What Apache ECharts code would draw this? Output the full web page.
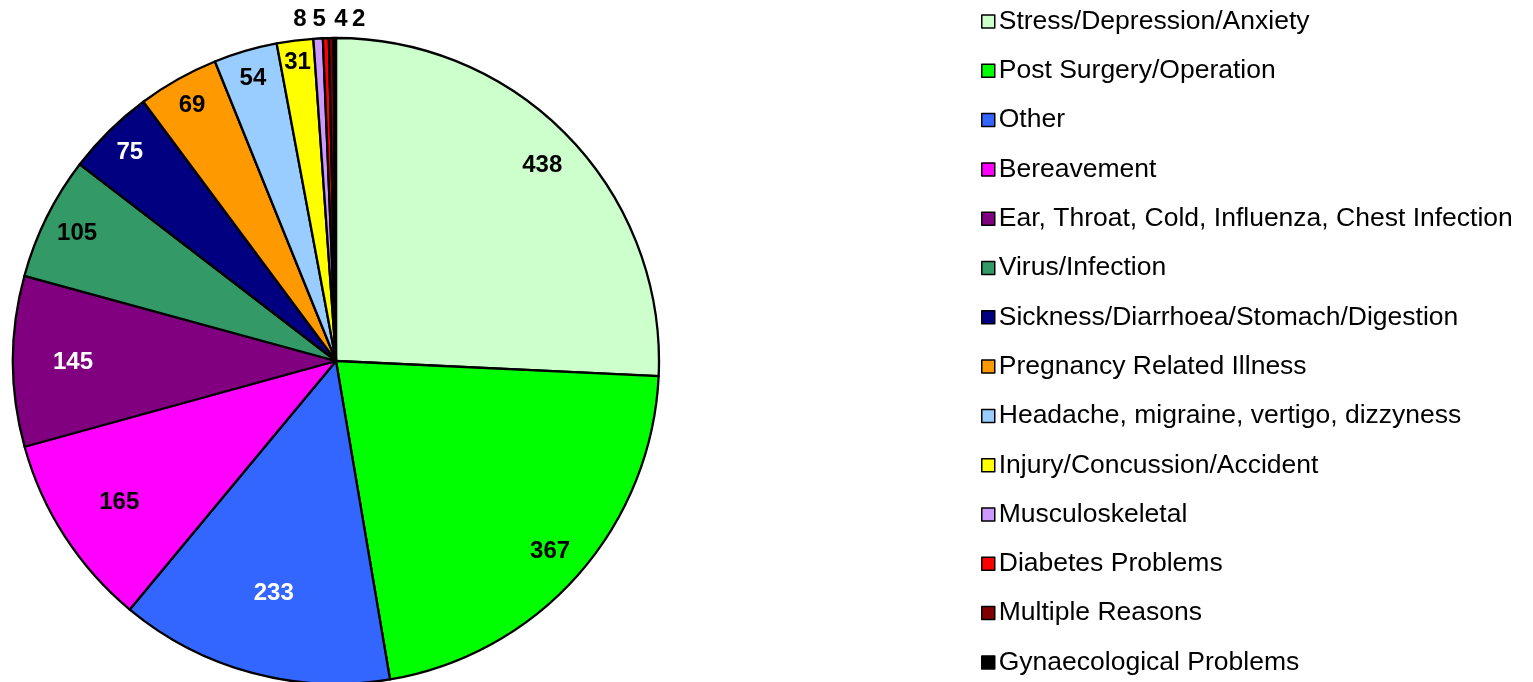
<!DOCTYPE html>
<html>
<head>
<meta charset="utf-8">
<script src="https://cdn.jsdelivr.net/npm/echarts@6/dist/echarts.min.js"></script>
<style>html,body{margin:0;padding:0;background:#fff}#c{width:1533px;height:682px}</style>
</head>
<body>
<div id="c"></div>
<script>
const categories = [
  'Stress/Depression/Anxiety',
  'Post Surgery/Operation',
  'Other',
  'Bereavement',
  'Ear, Throat, Cold, Influenza, Chest Infection',
  'Virus/Infection',
  'Sickness/Diarrhoea/Stomach/Digestion',
  'Pregnancy Related Illness',
  'Headache, migraine, vertigo, dizzyness',
  'Injury/Concussion/Accident',
  'Musculoskeletal',
  'Diabetes Problems',
  'Multiple Reasons',
  'Gynaecological Problems'
];
const values = [438, 367, 233, 165, 145, 105, 75, 69, 54, 31, 8, 5, 4, 2];

const colors = ['#CCFFCC','#00FF00','#3366FF','#FF00FF','#800080','#339966','#000080','#FF9900','#99CCFF','#FFFF00','#CC99FF','#FF0000','#800000','#000000'];
const labelColors = ['#000','#000','#fff','#000','#fff','#000','#fff','#000','#000','#000','#000','#000','#000','#000'];
// label distance from centre (px) and horizontal shift (style only)
const labelDist = [285, 286, 240, 258, 263, 289, 294, 294, 296, 302, 343, 343, 343, 343];
const labelShift = [0,0,0,0,0,0,0,0,0,0,-17,-6,10,24];

const CX = 336, CY = 361, R = 323;

const chart = echarts.init(document.getElementById('c'), null, {renderer: 'canvas'});
const font = 'Arial, "Liberation Sans", sans-serif';
chart.setOption({
  animation: false,
  backgroundColor: '#fff',
  legend: {
    orient: 'vertical',
    left: 981,
    top: 8,
    height: 680,
    padding: 0,
    itemWidth: 13,
    itemHeight: 13,
    itemGap: 22.3,
    icon: 'rect',
    selectedMode: false,
    itemStyle: {borderColor: '#000', borderWidth: 1.5},
    textStyle: {fontFamily: font, fontSize: 26.5, color: '#000', lineHeight: 26.5, padding: [0,0,0,-1]},
    data: categories
  },
  series: [{
    type: 'pie',
    center: [CX, CY],
    radius: [0, R],
    startAngle: 90,
    clockwise: true,
    avoidLabelOverlap: false,
    itemStyle: {borderColor: '#000', borderWidth: 2.3},
    label: {show: true, position: 'inside', formatter: '{c}', fontFamily: font, fontSize: 24, fontWeight: 'bold', color: '#000'},
    labelLine: {show: false},
    emphasis: {disabled: true},
    labelLayout: function (p) {
      const i = p.dataIndex;
      const lr = p.labelRect;
      const lx = lr.x + lr.width / 2, ly = lr.y + lr.height / 2;
      const vx = lx - CX, vy = ly - CY;
      const len = Math.hypot(vx, vy) || 1;
      const d = labelDist[i];
      return {x: CX + vx / len * d + labelShift[i], y: CY + vy / len * d + 1, align: 'center', verticalAlign: 'middle'};
    },
    data: categories.map((n, i) => ({
      name: n,
      value: values[i],
      itemStyle: {color: colors[i]},
      label: {color: labelColors[i]}
    }))
  }]
});
</script>
</body>
</html>
